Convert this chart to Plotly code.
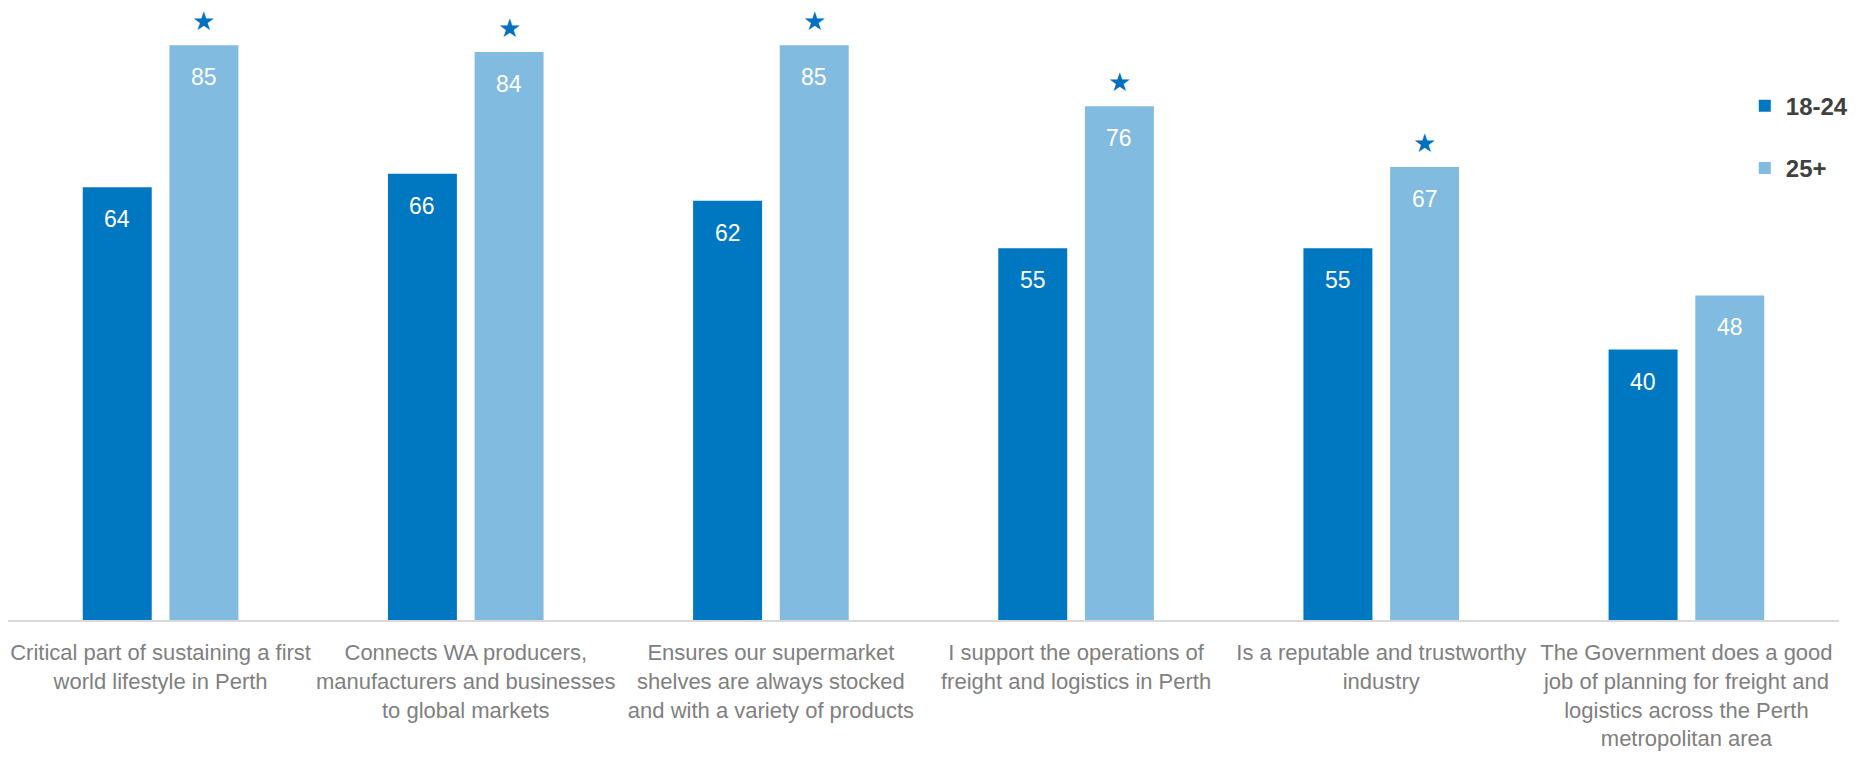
import plotly.graph_objects as go

categories = [
    "Critical part of sustaining a first<br>world lifestyle in Perth",
    "Connects WA producers,<br>manufacturers and businesses<br>to global markets",
    "Ensures our supermarket<br>shelves are always stocked<br>and with a variety of products",
    "I support the operations of<br>freight and logistics in Perth",
    "Is a reputable and trustworthy<br>industry",
    "The Government does a good<br>job of planning for freight and<br>logistics across the Perth<br>metropolitan area",
]
series_names = ["18-24", "25+"]
values_18_24 = [64, 66, 62, 55, 55, 40]
values_25_plus = [85, 84, 85, 76, 67, 48]
significant_25_plus = [True, True, True, True, True, False]

colors = ["#0077C1", "#81BBE0"]
FONT = "Liberation Sans, Arial, sans-serif"
offset = 0.142
bar_w = 0.226

fig = go.Figure()
idx = list(range(len(categories)))
for s, (name, vals, col) in enumerate(zip(series_names, [values_18_24, values_25_plus], colors)):
    xs = [i + (-offset if s == 0 else offset) for i in idx]
    fig.add_trace(go.Bar(
        x=xs, y=vals, width=bar_w, name=name, marker=dict(color=col, line=dict(width=0)),
        legendgroup=name, hoverinfo="skip",
    ))
    for x, v in zip(xs, vals):
        fig.add_annotation(x=x, y=v, text=str(v), showarrow=False, yshift=-32,
                           font=dict(family=FONT, size=23, color="white"))
    if s == 1:
        for x, v, sig in zip(xs, vals, significant_25_plus):
            if sig:
                fig.add_annotation(x=x, y=v, text="★", showarrow=False, yshift=24,
                                   font=dict(family="DejaVu Sans", size=26, color="#0070C0"))

fig.update_layout(
    width=1876, height=759,
    margin=dict(l=8, r=37, t=0, b=139, autoexpand=False),
    plot_bgcolor="white", paper_bgcolor="white",
    showlegend=True,
    legend=dict(x=0.948, y=0.865, xanchor="left", yanchor="top", itemwidth=32,
                font=dict(family=FONT, size=24, color="#404040", weight="bold"),
                tracegroupgap=28, bgcolor="rgba(0,0,0,0)"),
    xaxis=dict(range=[-0.5, 5.5], tickvals=idx, ticktext=categories, showgrid=False,
               zeroline=False, showline=True, linecolor="#D9D9D9", linewidth=2,
               ticks="", tickangle=0, automargin=False, ticklabelstandoff=12,
               tickfont=dict(family=FONT, size=22, color="#7F7F7F")),
    yaxis=dict(range=[0, 91.7], visible=False, showgrid=False, zeroline=False,
               automargin=False),
)

fig.write_html("out.html")
